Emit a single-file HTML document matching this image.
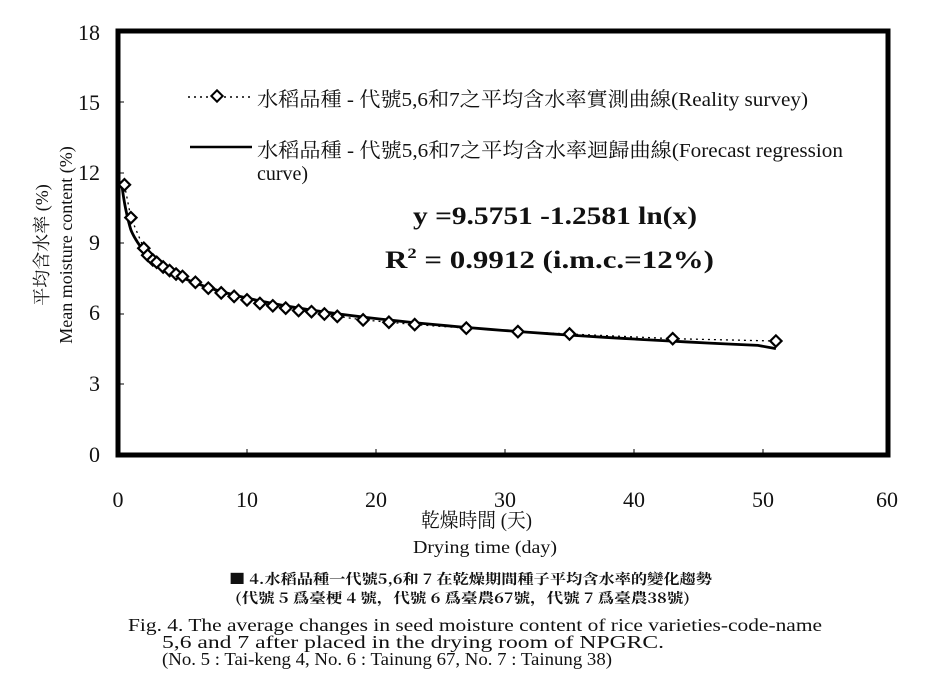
<!DOCTYPE html>
<html><head><meta charset="utf-8"><style>
body{margin:0;background:#fff;width:940px;height:684px;overflow:hidden}
svg{display:block}
text{font-family:"Liberation Serif","Noto Serif CJK SC",serif;fill:#111}
</style></head><body>
<svg id="s" width="940" height="684" viewBox="0 0 940 684" xmlns="http://www.w3.org/2000/svg">
<rect x="118" y="31" width="770" height="424" fill="none" stroke="#000" stroke-width="5"/>
<g font-size="22" text-anchor="end">
<text x="100" y="40">18</text><text x="100" y="110">15</text><text x="100" y="180">12</text>
<text x="100" y="250">9</text><text x="100" y="320">6</text><text x="100" y="391">3</text><text x="100" y="462">0</text>
</g>
<g font-size="22" text-anchor="middle">
<text x="118" y="507">0</text><text x="247" y="507">10</text><text x="376" y="507">20</text>
<text x="505" y="507">30</text><text x="634" y="507">40</text><text x="763" y="507">50</text><text x="887" y="507">60</text>
</g>
<g stroke="#000" stroke-width="1">
<line x1="247" y1="455" x2="247" y2="449"/><line x1="376" y1="455" x2="376" y2="449"/><line x1="505" y1="455" x2="505" y2="449"/><line x1="634" y1="455" x2="634" y2="449"/><line x1="763" y1="455" x2="763" y2="449"/>
<line x1="118" y1="384" x2="124" y2="384"/><line x1="118" y1="314" x2="124" y2="314"/><line x1="118" y1="243" x2="124" y2="243"/><line x1="118" y1="173" x2="124" y2="173"/><line x1="118" y1="102" x2="124" y2="102"/>
</g>
<text x="421" y="527" font-size="20" textLength="111" lengthAdjust="spacingAndGlyphs">乾燥時間 (天)</text>
<text x="413" y="553" font-size="18" textLength="144" lengthAdjust="spacingAndGlyphs">Drying time (day)</text>
<text transform="translate(48,245) rotate(-90)" font-size="18" text-anchor="middle">平均含水率 (%)</text>
<text transform="translate(72,245) rotate(-90)" font-size="18" text-anchor="middle">Mean moisture content (%)</text>
<line x1="188" y1="97" x2="250" y2="97" stroke="#000" stroke-width="1.5" stroke-dasharray="2,4"/>
<rect x="213" y="92" width="8" height="8" transform="rotate(45 217 96)" fill="#fff" stroke="#000" stroke-width="2"/>
<text x="257" y="106" font-size="20" textLength="551" lengthAdjust="spacingAndGlyphs">水稻品種 - 代號5,6和7之平均含水率實測曲線(Reality survey)</text>
<line x1="190" y1="147" x2="252" y2="147" stroke="#000" stroke-width="2.5"/>
<text x="257" y="157" font-size="20" textLength="586" lengthAdjust="spacingAndGlyphs">水稻品種 - 代號5,6和7之平均含水率迴歸曲線(Forecast regression</text>
<text x="257" y="180" font-size="20">curve)</text>
<text x="413" y="224" font-size="25" font-weight="bold" textLength="284" lengthAdjust="spacingAndGlyphs">y =9.5751 -1.2581 ln(x)</text>
<text x="385" y="268" font-size="25" font-weight="bold" textLength="329" lengthAdjust="spacingAndGlyphs">R<tspan font-size="15" dy="-10">2</tspan><tspan dy="10"> = 0.9912 (i.m.c.=12%)</tspan></text>
<g id="data"></g>
<g font-weight="bold">
<text x="229" y="584" font-size="14" textLength="483" lengthAdjust="spacingAndGlyphs" style="font-family:'Noto Serif CJK SC','Noto Sans CJK TC',serif">■ 4.水稻品種一代號5,6和 7 在乾燥期間種子平均含水率的變化趨勢</text>
<text x="235" y="603" font-size="14" textLength="455" lengthAdjust="spacingAndGlyphs" style="font-family:'Noto Serif CJK SC','Noto Sans CJK TC',serif">(代號 5 爲臺梗 4 號，代號 6 爲臺農67號，代號 7 爲臺農38號)</text>
</g>
<g font-size="18">
<text x="128" y="631" textLength="694" lengthAdjust="spacingAndGlyphs">Fig. 4. The average changes in seed moisture content of rice varieties-code-name</text>
<text x="162" y="648" textLength="502" lengthAdjust="spacingAndGlyphs">5,6 and 7 after placed in the drying room of NPGRC.</text>
<text x="162" y="665" textLength="450" lengthAdjust="spacingAndGlyphs">(No. 5 : Tai-keng 4, No. 6 : Tainung 67, No. 7 : Tainung 38)</text>
</g>
</svg>
<script>
var X=v=>118+v*12.9,Y=v=>455-v*23.5;
var pts=[[0.5,11.5],[1,10.1],[2,8.8],[2.3,8.5],[2.7,8.3],[3,8.2],[3.5,8.0],[4,7.85],[4.5,7.7],[5,7.6],[6,7.35],[7,7.1],[8,6.9],[9,6.75],[10,6.6],[11,6.45],[12,6.35],[13,6.25],[14,6.15],[15,6.1],[16,6.0],[17,5.9],[19,5.75],[21,5.65],[23,5.55],[27,5.4],[31,5.25],[35,5.15],[43,4.95],[51,4.85]];
var h='<polyline fill="none" stroke="#000" stroke-width="1.3" stroke-dasharray="2,4" points="'+pts.map(p=>X(p[0])+','+Y(p[1])).join(' ')+'"/>';
var d='';for(var x=0.28;x<51;x*=1.04){d+=X(x)+','+Y(Math.min(11.5,9.5751-1.2581*Math.log(x)+(x<1?0.6*(1-x):0)))+' ';}
d+=X(51)+','+Y(9.5751-1.2581*Math.log(51)-0.1);
h+='<polyline fill="none" stroke="#000" stroke-width="2.8" points="'+d+'"/>';
pts.forEach(p=>{h+='<rect x="'+(X(p[0])-4)+'" y="'+(Y(p[1])-4)+'" width="8" height="8" transform="rotate(45 '+X(p[0])+' '+Y(p[1])+')" fill="#fff" stroke="#000" stroke-width="2.2"/>';});
document.getElementById('data').innerHTML=h;
</script>
</body></html>
